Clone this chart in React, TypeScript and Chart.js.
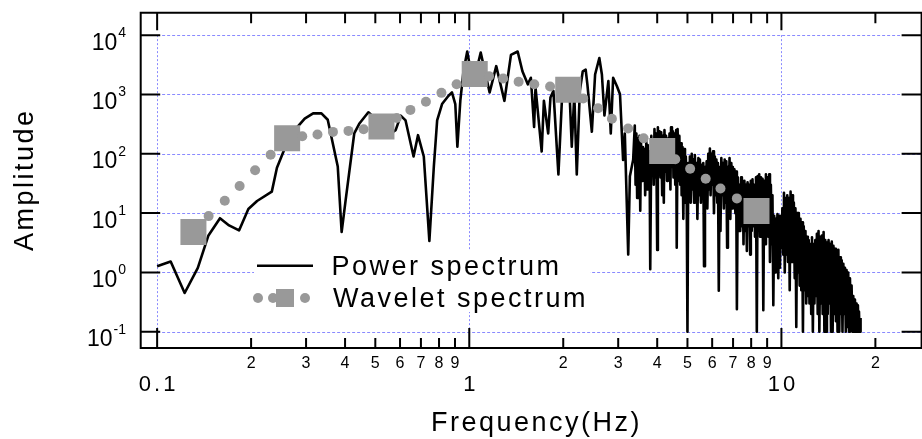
import React, { useEffect, useRef } from "react";
import { Chart, registerables } from "chart.js";

Chart.register(...registerables);

// ---------------- data ----------------
// Power spectrum, 0.1 – 3.35 Hz
const powerFreqLow = [
  0.1, 0.1105, 0.1225, 0.135, 0.146, 0.159, 0.17, 0.183, 0.196, 0.209, 0.233, 0.242, 0.254, 0.27, 0.297,
  0.316, 0.336, 0.352, 0.379, 0.39, 0.402, 0.428, 0.444, 0.475, 0.508, 0.56, 0.581, 0.603, 0.625, 0.663,
  0.685, 0.715, 0.745, 0.77, 0.789, 0.818, 0.858, 0.88, 0.902, 0.916, 0.936, 0.958, 0.985, 1.029, 1.088,
  1.162, 1.22, 1.296, 1.36, 1.429, 1.48, 1.54, 1.575, 1.613, 1.63, 1.706, 1.734, 1.79, 1.82, 1.86,
  1.93, 1.98, 2.01, 2.06, 2.09, 2.13, 2.17, 2.21, 2.26, 2.31, 2.36, 2.39, 2.47, 2.53, 2.61,
  2.66, 2.71, 2.79, 2.84, 2.89, 2.97, 3.04, 3.11, 3.15, 3.23, 3.27, 3.35,
];
const powerAmpLow = [
  1.27, 1.53, 0.45, 1.19, 4.2, 8.2, 6.2, 5.1, 11.7, 16, 23, 58, 109, 220, 390,
  480, 480, 375, 61, 4.8, 17, 220, 320, 500, 365, 220, 250, 440, 365, 90,
  206, 90, 3.4, 61, 365, 690, 950, 1080, 690, 132, 780, 2460, 5300, 1480, 5100,
  1080, 3000, 780, 4650, 5290, 2460, 1480, 1910, 284, 1310, 109, 783, 220, 890, 1150,
  45, 783, 1080, 783, 1480, 132, 1010, 45, 1150, 2460, 2630, 1480, 235, 2170, 4110,
  2170, 442, 1680, 220, 1910, 1390, 1010, 79, 220, 2.0, 42, 79,
];
// Power spectrum, 3.39 – 17.93 Hz (dense part)
const powerFreqHigh = [
  3.39, 3.41, 3.43, 3.45, 3.47, 3.49,
  3.51, 3.53, 3.55, 3.58, 3.6, 3.62,
  3.64, 3.66, 3.69, 3.71, 3.73, 3.76,
  3.78, 3.8, 3.83, 3.85, 3.87, 3.9,
  3.92, 3.95, 3.97, 4.0, 4.02, 4.05,
  4.07, 4.1, 4.12, 4.15, 4.17, 4.2,
  4.22, 4.25, 4.27, 4.3, 4.33, 4.35,
  4.38, 4.41, 4.43, 4.46, 4.49, 4.51,
  4.54, 4.57, 4.6, 4.62, 4.65, 4.68,
  4.71, 4.74, 4.77, 4.79, 4.82, 4.85,
  4.88, 4.91, 4.94, 4.97, 5.0, 5.03,
  5.06, 5.09, 5.12, 5.16, 5.19, 5.22,
  5.25, 5.28, 5.32, 5.35, 5.38, 5.42,
  5.45, 5.48, 5.52, 5.55, 5.58, 5.62,
  5.65, 5.69, 5.72, 5.76, 5.79, 5.83,
  5.86, 5.9, 5.93, 5.97, 6.01, 6.04,
  6.08, 6.12, 6.15, 6.19, 6.23, 6.26,
  6.3, 6.34, 6.38, 6.42, 6.46, 6.5,
  6.54, 6.58, 6.62, 6.66, 6.7, 6.74,
  6.78, 6.82, 6.86, 6.91, 6.95, 6.99,
  7.03, 7.07, 7.12, 7.16, 7.2, 7.25,
  7.29, 7.34, 7.38, 7.43, 7.47, 7.52,
  7.56, 7.61, 7.65, 7.7, 7.75, 7.79,
  7.84, 7.89, 7.94, 7.98, 8.03, 8.08,
  8.13, 8.18, 8.23, 8.29, 8.34, 8.39,
  8.44, 8.49, 8.54, 8.6, 8.65, 8.7,
  8.75, 8.81, 8.86, 8.92, 8.97, 9.03,
  9.08, 9.14, 9.19, 9.25, 9.31, 9.36,
  9.42, 9.48, 9.54, 9.59, 9.65, 9.71,
  9.77, 9.83, 9.89, 9.95, 10.01, 10.07,
  10.13, 10.19, 10.25, 10.32, 10.38, 10.44,
  10.5, 10.57, 10.63, 10.7, 10.76, 10.83,
  10.89, 10.96, 11.03, 11.09, 11.16, 11.23,
  11.3, 11.37, 11.44, 11.51, 11.58, 11.65,
  11.72, 11.79, 11.86, 11.94, 12.01, 12.08,
  12.15, 12.23, 12.3, 12.38, 12.46, 12.53,
  12.61, 12.69, 12.76, 12.84, 12.92, 12.99,
  13.07, 13.15, 13.23, 13.32, 13.4, 13.48,
  13.56, 13.65, 13.73, 13.82, 13.9, 13.99,
  14.07, 14.16, 14.24, 14.33, 14.42, 14.5,
  14.59, 14.68, 14.77, 14.86, 14.95, 15.04,
  15.13, 15.22, 15.32, 15.41, 15.5, 15.6,
  15.69, 15.79, 15.88, 15.98, 16.08, 16.17,
  16.27, 16.37, 16.47, 16.58, 16.68, 16.78,
  16.88, 16.99, 17.09, 17.2, 17.3, 17.41,
  17.51, 17.58, 17.65, 17.72, 17.79, 17.86, 17.93,
];
const powerAmpHigh = [
  300, 30, 220, 18, 180, 40,
  200, 11, 150, 35, 130, 40,
  120, 20, 160, 25, 140, 30,
  110, 1.13, 200, 45, 170, 30,
  260, 40, 220, 2.4, 280, 50,
  240, 40, 230, 20, 200, 15,
  250, 50, 200, 35, 180, 45,
  220, 25, 280, 60, 240, 40,
  220, 30, 250, 2.6, 260, 35,
  200, 30, 150, 20, 130, 8,
  120, 15, 90, 30, 0.1, 70,
  20, 90, 15, 100, 25, 80,
  15, 95, 20, 70, 8, 85,
  20, 80, 15, 65, 25, 70,
  1.27, 60, 18, 75, 12, 100,
  25, 123, 20, 100, 30, 110,
  10, 90, 20, 80, 15, 70,
  0.49, 60, 5, 85, 20, 70,
  12, 80, 15, 75, 2.6, 60,
  15, 85, 8, 70, 12, 60,
  15, 55, 10, 50, 0.24, 40,
  5, 30, 5, 40, 6, 35,
  3, 35, 5, 30, 2.3, 33,
  6, 30, 2.0, 35, 5, 37,
  6, 30, 4, 40, 0.1, 42,
  5, 45, 4, 40, 6, 38,
  0.23, 35, 3, 45, 5, 40,
  4, 45, 1.5, 30, 3, 20,
  0.28, 9, 1, 8, 1.5, 9.6,
  0.8, 9, 1.2, 8, 2.6, 12,
  2, 22, 1, 18, 2, 20,
  1.5, 18, 0.5, 23, 1.5, 20,
  1.5, 15, 0.8, 12, 0.12, 10,
  1, 10, 0.6, 8, 0.5, 7,
  0.1, 6, 0.5, 5, 0.3, 4,
  0.4, 3.5, 0.3, 3, 0.2, 3.9,
  0.1, 3, 0.3, 3.5, 0.4, 4.5,
  0.2, 5.0, 0.1, 4, 0.3, 4.2,
  0.2, 4.8, 0.1, 3.5, 0.1, 3.2,
  0.2, 3.5, 0.3, 3, 0.1, 3.3,
  0.1, 2.8, 0.2, 2.5, 0.15, 2.2,
  0.1, 2.4, 0.1, 1.8, 0.2, 1.6,
  0.1, 1.4, 0.2, 1.2, 0.1, 1.1,
  0.12, 1.0, 0.1, 0.8, 0.15, 0.6,
  0.1, 0.4, 0.1, 0.35, 0.1, 0.3,
  0.1, 0.28, 0.1, 0.22, 0.1, 0.1, 0.17,
];

const waveletFreq = [
  0.1307, 0.1462, 0.1647, 0.1838, 0.206, 0.231, 0.2609, 0.2917, 0.3263, 0.3658, 0.4102, 0.4586,
  0.5232, 0.5856, 0.6477, 0.7263, 0.8144, 0.9108, 1.041, 1.157, 1.284, 1.439, 1.615, 1.815,
  2.075, 2.318, 2.586, 2.864, 3.227, 3.618, 4.15, 4.57, 5.1, 5.72, 6.38, 7.2, 8.32,
];
const waveletAmp = [
  4.8, 8.9, 16.2, 28.7, 52.8, 96, 183, 198, 211, 234, 243, 259,
  289, 400, 549, 754, 1064, 1482, 2213, 2035, 1864, 1643, 1482, 1358,
  1202, 858, 586, 389, 266, 182, 111, 81, 56, 38, 26, 17.7, 10.9,
];

const yTickValues = [1e4, 1e3, 1e2, 1e1, 1, 0.1];
const yTickExponents = ["4", "3", "2", "1", "0", "-1"];
const xMajorValues = [0.1, 1, 10];
const xMajorLabels = ["0.1", "1", "10"];
const xMinorValues = [0.2, 0.3, 0.4, 0.5, 0.6, 0.7, 0.8, 0.9, 2, 3, 4, 5, 6, 7, 8, 9, 20];
const xMinorLabels = ["2", "3", "4", "5", "6", "7", "8", "9", "2", "3", "4", "5", "6", "7", "8", "9", "2"];

const legendLabels = ["Power spectrum", "Wavelet spectrum"];
const xTitle = "Frequency(Hz)";
const yTitle = "Amplitude";

// ---------------- style ----------------
const FONT = '"Liberation Sans", Arial, Helvetica, sans-serif';
const GRAY = "#999999";
const GRID = "#8a8aff";
const X_MIN = 0.088777;
const X_MAX = 28.126;
const Y_MIN = 0.053243;
const Y_MAX = 19142;

function drawText(
  ctx: CanvasRenderingContext2D,
  s: string,
  x: number,
  y: number,
  size: number,
  align: "left" | "center" | "right",
  spacing = 0,
  rot = 0
) {
  ctx.save();
  ctx.font = `${size}px ${FONT}`;
  (ctx as any).letterSpacing = `${spacing}px`;
  ctx.textAlign = "left";
  ctx.textBaseline = "alphabetic";
  ctx.fillStyle = "#000";
  const w = ctx.measureText(s).width - (spacing ? spacing : 0);
  ctx.translate(x, y);
  if (rot) ctx.rotate(rot);
  let sx = 0;
  if (align === "center") sx = -w / 2;
  else if (align === "right") sx = -w;
  ctx.fillText(s, sx, 0);
  (ctx as any).letterSpacing = "0px";
  ctx.restore();
}

const decor = {
  id: "decor",
  beforeDatasetsDraw(chart: any) {
    const { ctx, chartArea: a, scales } = chart;
    const x = scales.x;
    const y = scales.y;
    ctx.save();
    ctx.strokeStyle = GRID;
    ctx.lineWidth = 1;
    const xl = x.getPixelForValue(0.1);
    const yt = y.getPixelForValue(1e4);
    const yb = y.getPixelForValue(0.1);
    ctx.setLineDash([3, 2]);
    yTickValues.forEach((v) => {
      const py = Math.round(y.getPixelForValue(v)) + 0.5;
      ctx.beginPath();
      ctx.moveTo(xl, py);
      ctx.lineTo(a.right, py);
      ctx.stroke();
    });
    ctx.setLineDash([2, 2]);
    xMajorValues.forEach((v) => {
      const px = Math.round(x.getPixelForValue(v)) + 0.5;
      ctx.beginPath();
      ctx.moveTo(px, yt);
      ctx.lineTo(px, yb);
      ctx.stroke();
    });
    ctx.restore();
  },
  afterDatasetsDraw(chart: any) {
    const { ctx } = chart;
    ctx.save();
    ctx.fillStyle = "#fff";
    ctx.fillRect(254, 250, 336, 62);
    ctx.strokeStyle = "#000";
    ctx.lineWidth = 2.5;
    ctx.beginPath();
    ctx.moveTo(257, 265.7);
    ctx.lineTo(313, 265.7);
    ctx.stroke();
    ctx.fillStyle = GRAY;
    [258, 273, 289, 305].forEach((cx) => {
      ctx.beginPath();
      ctx.arc(cx, 298, 5, 0, Math.PI * 2);
      ctx.fill();
    });
    ctx.fillRect(276, 289, 18, 18);
    ctx.restore();
    drawText(ctx, legendLabels[0], 331.5, 275, 27, "left", 2.5);
    drawText(ctx, legendLabels[1], 333, 307, 27, "left", 2.5);
  },
  afterDraw(chart: any) {
    const { ctx, chartArea: a, scales } = chart;
    const x = scales.x;
    const y = scales.y;
    const L = 140.7;
    const T = 12.8;
    const B = 348;
    const R = a.right;
    ctx.save();
    ctx.strokeStyle = "#000";
    ctx.lineWidth = 2;
    ctx.setLineDash([]);
    ctx.beginPath();
    ctx.moveTo(L, T);
    ctx.lineTo(R, T);
    ctx.lineTo(R, B);
    ctx.lineTo(L, B);
    ctx.closePath();
    ctx.stroke();
    yTickValues.forEach((v) => {
      const py = y.getPixelForValue(v);
      ctx.beginPath();
      ctx.moveTo(L, py);
      ctx.lineTo(L + 19.5, py);
      ctx.moveTo(R, py);
      ctx.lineTo(R - 20, py);
      ctx.stroke();
    });
    xMajorValues.forEach((v) => {
      const px = x.getPixelForValue(v);
      ctx.beginPath();
      ctx.moveTo(px, B);
      ctx.lineTo(px, B - 20);
      ctx.moveTo(px, T);
      ctx.lineTo(px, T + 17.5);
      ctx.stroke();
    });
    xMinorValues.forEach((v) => {
      const px = x.getPixelForValue(v);
      ctx.beginPath();
      ctx.moveTo(px, B);
      ctx.lineTo(px, B - 10);
      ctx.moveTo(px, T);
      ctx.lineTo(px, T + 10.5);
      ctx.stroke();
    });
    ctx.restore();

    yTickValues.forEach((v, i) => {
      const py = y.getPixelForValue(v);
      const sup = yTickExponents[i];
      ctx.save();
      ctx.font = `14px ${FONT}`;
      const sw = ctx.measureText(sup).width;
      ctx.restore();
      const supX = 126 - sw;
      drawText(ctx, sup, supX, py + 2, 14, "left");
      drawText(ctx, "10", supX - 1, py + 14.5, 23, "right");
    });
    xMinorValues.forEach((v, i) => {
      drawText(ctx, xMinorLabels[i], x.getPixelForValue(v), 368.3, 16, "center");
    });
    xMajorValues.forEach((v, i) => {
      drawText(ctx, xMajorLabels[i], x.getPixelForValue(v), 390.7, 22, "center", 3);
    });
    drawText(ctx, xTitle, 431, 431, 27, "left", 2.5);
    drawText(ctx, yTitle, 32.5, 181, 27, "center", 2.5, -Math.PI / 2);
  },
};

export default function App() {
  const ref = useRef<HTMLCanvasElement | null>(null);
  useEffect(() => {
    if (!ref.current) return;
    const powerFreq = powerFreqLow.concat(powerFreqHigh);
    const powerAmp = powerAmpLow.concat(powerAmpHigh);
    const chart = new Chart(ref.current, {
      type: "line",
      data: {
        datasets: [
          {
            label: legendLabels[1],
            data: waveletFreq.map((f, i) => ({ x: f, y: waveletAmp[i] })),
            showLine: false,
            pointStyle: waveletFreq.map((_, i) => (i % 6 === 0 ? "rect" : "circle")) as any,
            pointRadius: waveletFreq.map((_, i) => (i % 6 === 0 ? 18.4 : 5)),
            pointBackgroundColor: GRAY,
            pointBorderColor: GRAY,
            pointBorderWidth: 0,
            order: 0,
          },
          {
            label: legendLabels[0],
            data: powerFreq.map((f, i) => ({ x: f, y: powerAmp[i] })),
            borderColor: "#000",
            borderWidth: 2.6,
            borderJoinStyle: "round",
            pointRadius: 0,
            tension: 0,
            fill: false,
            order: 1,
          },
        ] as any,
      },
      options: {
        responsive: false,
        animation: false,
        devicePixelRatio: 1,
        events: [],
        layout: { padding: { left: 141, right: 10, top: 13, bottom: 91 } },
        plugins: { legend: { display: false }, tooltip: { enabled: false } },
        scales: {
          x: { type: "logarithmic", min: X_MIN, max: X_MAX, display: false, bounds: "data" },
          y: { type: "logarithmic", min: Y_MIN, max: Y_MAX, display: false, bounds: "data" },
        },
      } as any,
      plugins: [decor],
    });
    return () => chart.destroy();
  }, []);
  return (
    <div
      style={{
        position: "fixed",
        left: 0,
        top: 0,
        width: 922,
        height: 439,
        overflow: "hidden",
        background: "#fff",
      }}
    >
      <canvas ref={ref} width={940} height={439} style={{ display: "block", width: 940, height: 439 }} />
    </div>
  );
}
